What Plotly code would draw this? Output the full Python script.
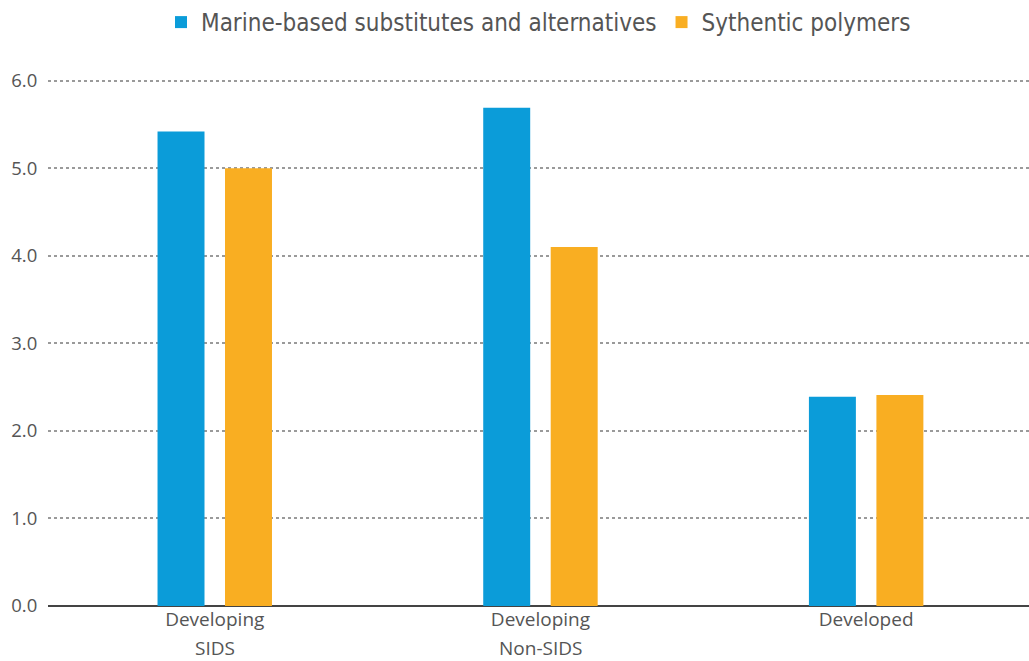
import plotly.graph_objects as go

categories = ["Developing SIDS", "Developing Non-SIDS", "Developed"]
label_line1 = ["Developing", "Developing", "Developed"]
label_line2 = ["SIDS", "Non-SIDS", ""]
marine_values = [5.42, 5.69, 2.39]
synthetic_values = [5.0, 4.1, 2.41]
y_ticks = [0, 1, 2, 3, 4, 5, 6]
y_tick_labels = ["0.0", "1.0", "2.0", "3.0", "4.0", "5.0", "6.0"]

BLUE = "#0b9cd9"
ORANGE = "#f9ae22"
TEXT = "#555555"
LABEL_FONT = "Open Sans, sans-serif"
CAT_SIZE = 19

fig = go.Figure()
fig.add_trace(go.Bar(
    x=categories, y=marine_values,
    name="Marine-based substitutes and alternatives",
    marker=dict(color=BLUE, line=dict(width=0)),
))
fig.add_trace(go.Bar(
    x=categories, y=synthetic_values,
    name="Sythentic polymers",
    marker=dict(color=ORANGE, line=dict(width=0)),
))

# second line of each category label, set tight under the first line
for cat, txt in zip(categories, label_line2):
    if txt:
        fig.add_annotation(
            x=cat, y=0, xref="x", yref="y",
            text=txt, showarrow=False,
            xanchor="center", yanchor="top", yshift=-28,
            borderpad=0,
            font=dict(family=LABEL_FONT, size=CAT_SIZE, color=TEXT),
        )

fig.update_layout(
    width=1029, height=661,
    margin=dict(l=48, r=0, t=78, b=55),
    paper_bgcolor="white", plot_bgcolor="white",
    barmode="group", bargap=0.5856, bargroupgap=0.304,
    font=dict(family=LABEL_FONT, color=TEXT),
    showlegend=True,
    legend=dict(
        orientation="h", x=0.5, xanchor="center",
        yref="container", y=1.0, yanchor="top",
        font=dict(family="Liberation Sans Narrow, DejaVu Sans Condensed, sans-serif",
                  size=24, color=TEXT),
        traceorder="normal",
    ),
    xaxis=dict(
        range=[-0.512, 2.5],
        tickvals=categories, ticktext=label_line1,
        showgrid=False, zeroline=False, showline=False,
        ticks="", ticklabelstandoff=0,
        tickfont=dict(size=CAT_SIZE, color=TEXT),
    ),
    yaxis=dict(
        range=[0, 6.03],
        tickvals=y_ticks, ticktext=y_tick_labels,
        showgrid=True, gridcolor="#9a9a9a", gridwidth=1.5, griddash="dot",
        zeroline=True, zerolinecolor="#444444", zerolinewidth=2,
        showline=False,
        ticks="outside", ticklen=6, tickcolor="rgba(0,0,0,0)",
        tickfont=dict(size=18.5, color=TEXT),
    ),
)

fig.write_html("out.html")
